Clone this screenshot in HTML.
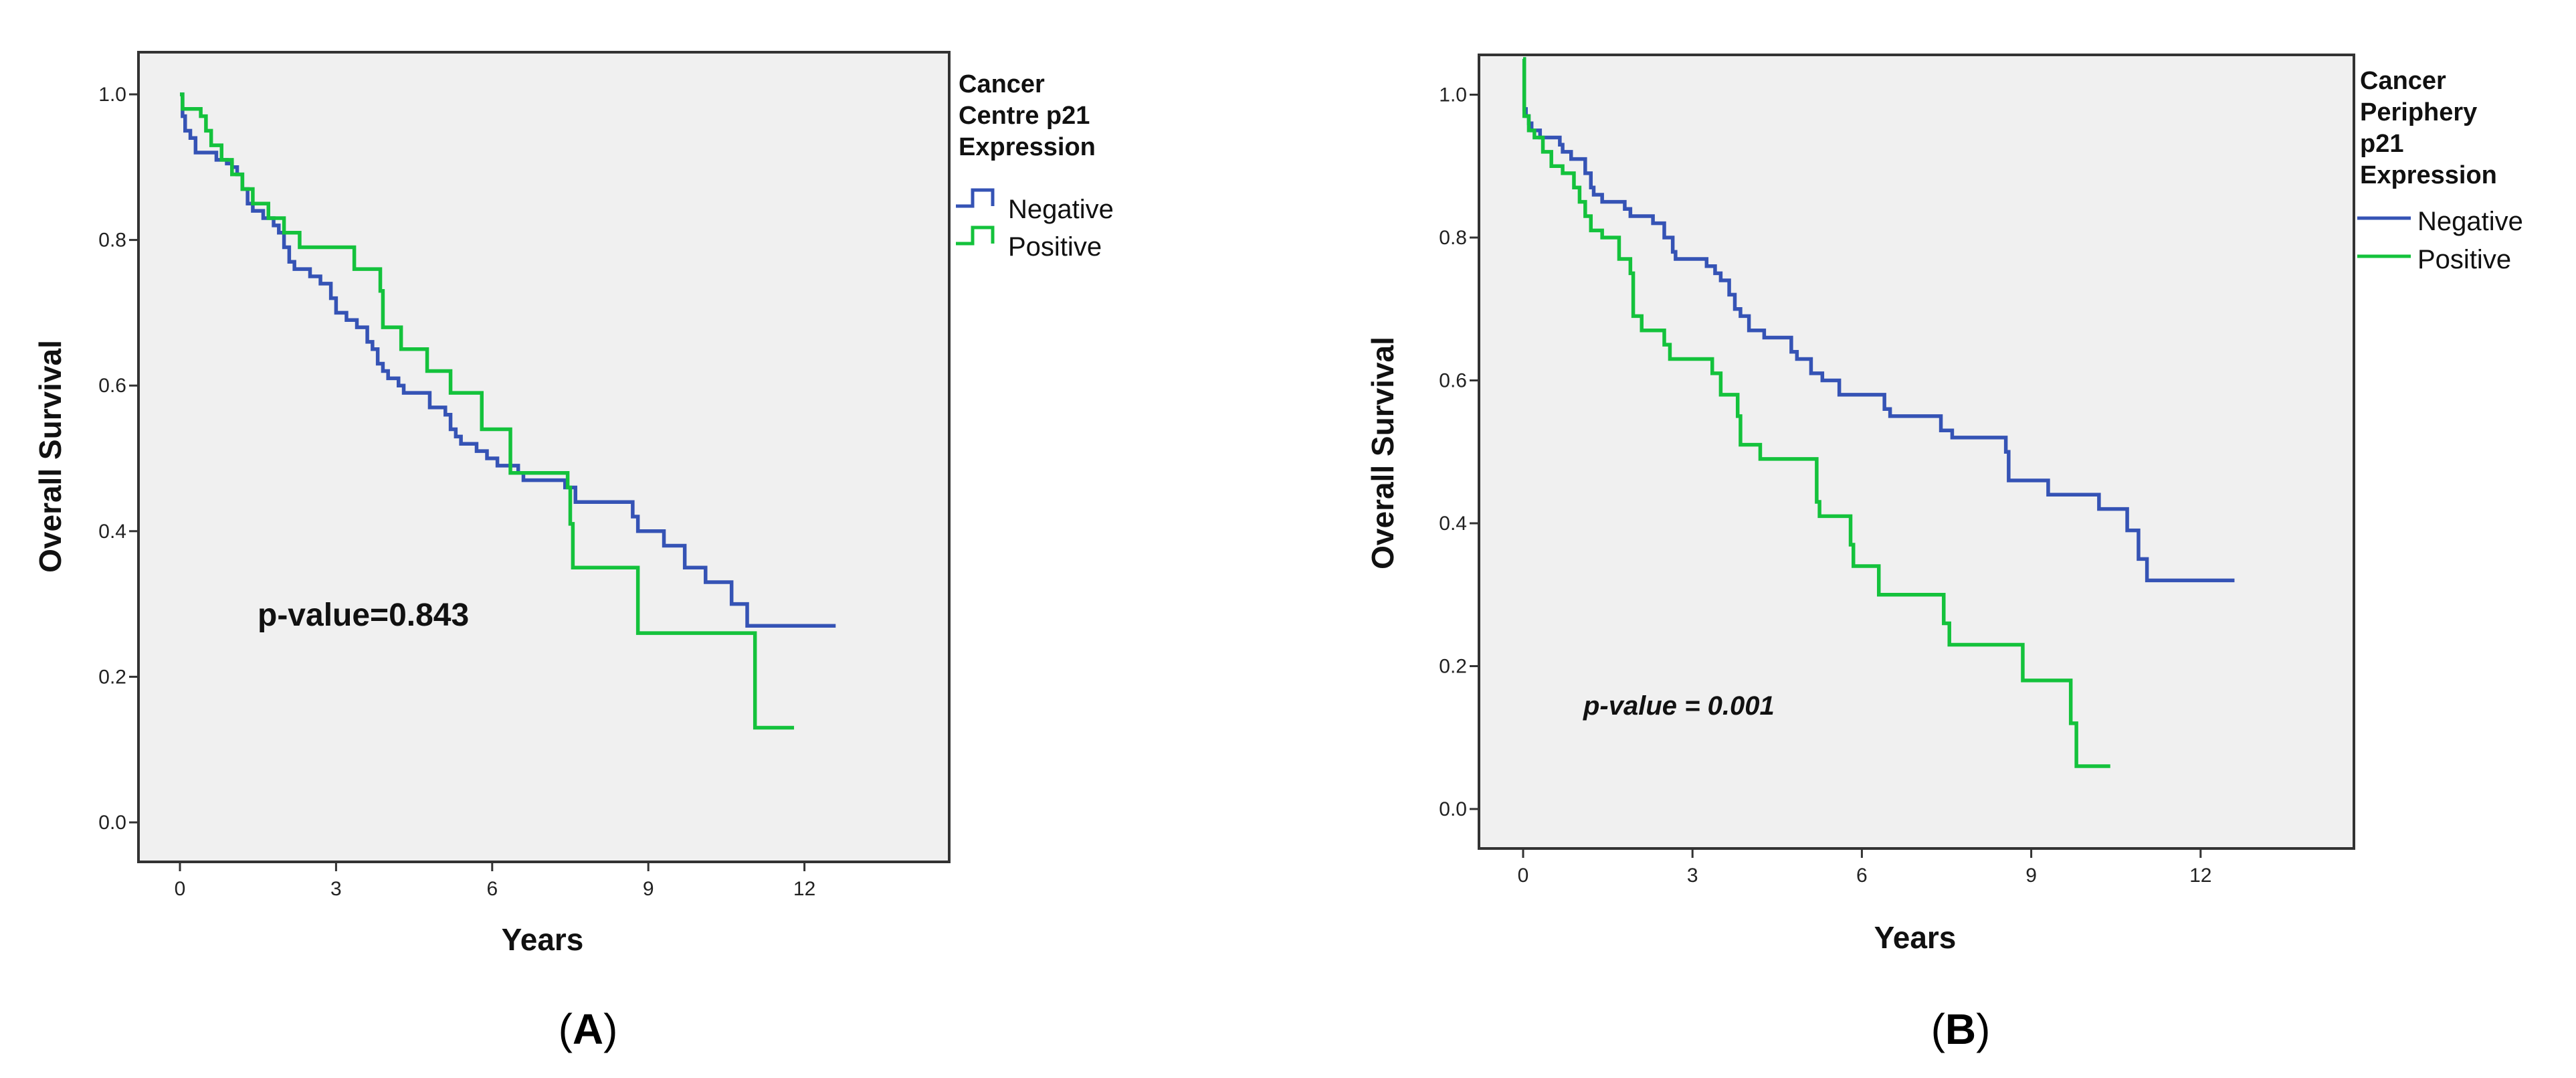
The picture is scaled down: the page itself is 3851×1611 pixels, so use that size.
<!DOCTYPE html>
<html><head><meta charset="utf-8">
<style>
html,body{margin:0;padding:0;background:#fff;}
svg{display:block;}
text{font-family:"Liberation Sans","DejaVu Sans",sans-serif;}
</style></head>
<body>
<svg id="fig" width="3851" height="1611" viewBox="0 0 3851 1611">
</svg>
<script>
// ---- Panel A data (years, survival) ----
const aNegT = [0,0.05,0.1,0.2,0.3,0.7,0.9,1.0,1.1,1.2,1.3,1.4,1.6,1.8,1.9,2.0,2.1,2.2,2.5,2.7,2.9,3.0,3.2,3.4,3.6,3.7,3.8,3.9,4.0,4.2,4.3,4.8,5.1,5.2,5.3,5.4,5.7,5.9,6.1,6.5,6.6,7.4,7.6,8.7,8.8,9.3,9.7,10.1,10.6,10.9,12.6];
const aNegS = [1.0,0.97,0.95,0.94,0.92,0.91,0.905,0.90,0.89,0.87,0.85,0.84,0.83,0.82,0.81,0.79,0.77,0.76,0.75,0.74,0.72,0.70,0.69,0.68,0.66,0.65,0.63,0.62,0.61,0.60,0.59,0.57,0.56,0.54,0.53,0.52,0.51,0.50,0.49,0.48,0.47,0.46,0.44,0.42,0.40,0.38,0.35,0.33,0.30,0.27,0.27];
const aPosT = [0,0.05,0.4,0.5,0.6,0.8,1.0,1.2,1.4,1.7,2.0,2.3,3.35,3.85,3.9,4.25,4.75,5.2,5.8,6.35,7.45,7.5,7.55,8.8,11.05,11.8];
const aPosS = [1.0,0.98,0.97,0.95,0.93,0.91,0.89,0.87,0.85,0.83,0.81,0.79,0.76,0.73,0.68,0.65,0.62,0.59,0.54,0.48,0.46,0.41,0.35,0.26,0.13,0.13];
// ---- Panel B data ----
const bNegT = [0,0.02,0.05,0.1,0.15,0.3,0.65,0.7,0.85,1.1,1.2,1.25,1.4,1.8,1.9,2.3,2.5,2.65,2.7,3.25,3.4,3.5,3.65,3.75,3.85,4.0,4.27,4.75,4.85,5.1,5.3,5.6,6.4,6.5,7.4,7.6,8.55,8.6,9.3,10.2,10.7,10.9,11.05,12.6];
const bNegS = [1.05,0.98,0.97,0.96,0.95,0.94,0.93,0.92,0.91,0.89,0.87,0.86,0.85,0.84,0.83,0.82,0.80,0.78,0.77,0.76,0.75,0.74,0.72,0.70,0.69,0.67,0.66,0.64,0.63,0.61,0.60,0.58,0.56,0.55,0.53,0.52,0.50,0.46,0.44,0.42,0.39,0.35,0.32,0.32];
const bPosT = [0,0.02,0.1,0.2,0.35,0.5,0.7,0.9,1.0,1.1,1.2,1.4,1.7,1.9,1.95,2.1,2.5,2.6,3.35,3.5,3.8,3.85,4.2,5.2,5.25,5.8,5.85,6.3,7.45,7.55,8.85,9.7,9.8,10.4];
const bPosS = [1.05,0.97,0.95,0.94,0.92,0.90,0.89,0.87,0.85,0.83,0.81,0.80,0.77,0.75,0.69,0.67,0.65,0.63,0.61,0.58,0.55,0.51,0.49,0.43,0.41,0.37,0.34,0.30,0.26,0.23,0.18,0.12,0.06,0.06];
const xTicks = [0,3,6,9,12];
const yTicks = [0.0,0.2,0.4,0.6,0.8,1.0];
const legendLabels = ["Negative","Positive"];

const NS="http://www.w3.org/2000/svg";
const svg=document.getElementById('fig');
function mk(tag,attrs,parent,txt){const e=document.createElementNS(NS,tag);for(const k in attrs)e.setAttribute(k,attrs[k]);if(txt!==undefined)e.textContent=txt;(parent||svg).appendChild(e);return e;}

const BLUE="#3553b5", GREEN="#14c23c";

function panel(cfg){
  const g=mk('g',{});
  
  
  const sx=t=>cfg.x0+t*cfg.px;
  const sy=s=>cfg.y0-s*cfg.py;
  const bg=mk('rect',{x:cfg.L,y:cfg.T,width:cfg.R-cfg.L,height:cfg.B-cfg.T,fill:'#f0f0f0',stroke:'#333',"stroke-width":4},g);
  
  
  // y ticks
  yTicks.forEach(v=>{
    const l=mk('line',{x1:cfg.L-14,x2:cfg.L,y1:sy(v),y2:sy(v),stroke:'#333','stroke-width':3},g);
    
    
    const t=mk('text',{x:cfg.L-18,y:sy(v)+10,'text-anchor':'end','font-size':30,fill:'#222'},g,v.toFixed(1));
    
    
  });
  xTicks.forEach(v=>{
    const l=mk('line',{x1:sx(v),x2:sx(v),y1:cfg.B,y2:cfg.B+14,stroke:'#333','stroke-width':3},g);
    
    
    const t=mk('text',{x:sx(v),y:cfg.B+50,'text-anchor':'middle','font-size':30,fill:'#222'},g,String(v));
    
    
  });
  function step(T,S,color,name){
    let d='M'+sx(T[0])+','+sy(S[0]);
    for(let i=1;i<T.length;i++){d+=' H'+sx(T[i])+' V'+sy(S[i]);}
    const p=mk('path',{d:d,fill:'none',stroke:color,'stroke-width':5.5,'stroke-linejoin':'miter'},g);
    
    
  }
  step(cfg.negT,cfg.negS,BLUE,'negative-curve');
  step(cfg.posT,cfg.posS,GREEN,'positive-curve');
  // axis titles
  const yt=mk('text',{transform:`translate(${cfg.ytx},${cfg.yty}) rotate(-90)`,'text-anchor':'middle','font-size':46,'font-weight':'bold',fill:'#111'},g,'Overall Survival');
  
  
  const xt=mk('text',{x:cfg.xtx,y:cfg.xty,'text-anchor':'middle','font-size':46,'font-weight':'bold',fill:'#111'},g,'Years');
  
  
  // p-value
  const pv=mk('text',{x:cfg.pvx,y:cfg.pvy,'font-size':cfg.pvs,'font-weight':'bold','font-style':cfg.pvi?'italic':'normal',fill:'#111'},g,cfg.pv);
  
  
  // legend
  cfg.title.forEach((s,i)=>{
    const t=mk('text',{x:cfg.lgx,y:cfg.lgy+i*47,'font-size':38,'font-weight':'bold',fill:'#111'},g,s);
    
    
  });
  legendLabels.forEach((s,i)=>{
    const y=cfg.lly+i*cfg.llgap;
    const c=i===0?BLUE:GREEN;
    const ln=mk('path',{d:cfg.stepIcon?`M${cfg.lgx-4},${y} h25 v-24 h30 v24`:`M${cfg.lgx-4},${y} h80`,fill:'none',stroke:c,'stroke-width':5},g);
    
    
    const t=mk('text',{x:cfg.ltx,y:y+18,'font-size':40,fill:'#111'},g,s);
    
    
  });
  const cap=mk('text',{x:cfg.capx,y:1560,'text-anchor':'middle','font-size':64,fill:'#000','font-family':'Liberation Serif, serif'},g);
  
  
  mk('tspan',{},cap,'(');
  mk('tspan',{'font-weight':'bold'},cap,cfg.cap);
  mk('tspan',{},cap,')');
}

panel({id:'panel-a',L:207,R:1419,T:78,B:1288,x0:269,px:77.8,y0:1229,py:1088,
  negT:aNegT,negS:aNegS,posT:aPosT,posS:aPosS,
  ytx:91,yty:682,xtx:811,xty:1420,pvx:385,pvy:935,pv:'p-value=0.843',pvs:48,pvi:false,
  title:['Cancer','Centre p21','Expression'],lgx:1433,lgy:138,lly:308,llgap:56,ltx:1507,stepIcon:true,capx:879,cap:'A'});
panel({id:'panel-b',L:2211,R:3519,T:82,B:1268,x0:2277,px:84.4,y0:1209,py:1067.5,
  negT:bNegT,negS:bNegS,posT:bPosT,posS:bPosS,
  ytx:2083,yty:677,xtx:2863,xty:1417,pvx:2367,pvy:1068,pv:'p-value = 0.001',pvs:40,pvi:true,
  title:['Cancer','Periphery','p21','Expression'],lgx:3528,lgy:133,lly:326,llgap:57,ltx:3614,stepIcon:false,capx:2931,cap:'B'});
</script>
</body></html>
